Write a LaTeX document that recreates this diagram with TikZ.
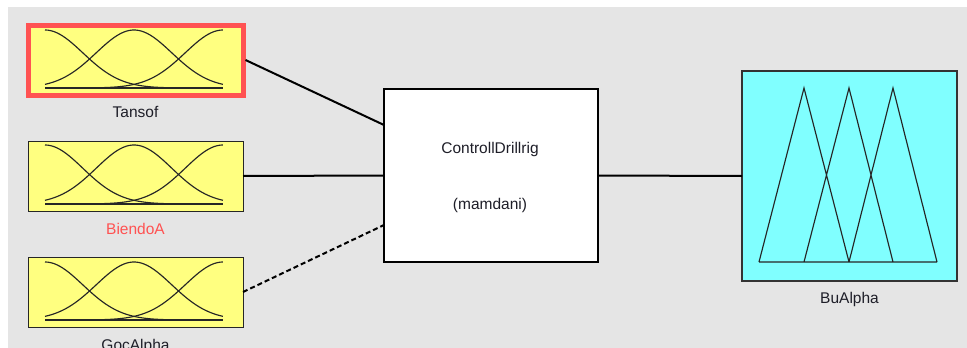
\documentclass[tikz,border=0pt]{standalone}
\usepackage{fontspec}
\setmainfont{Liberation Sans}
\definecolor{panelgrey}{HTML}{E5E5E5}
\definecolor{mfyellow}{HTML}{FFFF80}
\definecolor{mfcyan}{HTML}{80FFFF}
\definecolor{selred}{HTML}{FF5252}
\definecolor{txt}{HTML}{1E1E28}
\tikzset{
  inbox/.style={rectangle, draw=black!85, line width=1pt, fill=mfyellow,
    minimum width=215pt, minimum height=70pt, inner sep=0pt, outer sep=0pt},
  selbox/.style={inbox, draw=selred, line width=5pt},
  fisbox/.style={rectangle, draw=black, line width=2pt, fill=white,
    minimum width=214pt, minimum height=173pt, inner sep=0pt, outer sep=0pt},
  outbox/.style={rectangle, draw=black!80, line width=1.4pt, fill=mfcyan,
    minimum width=215pt, minimum height=210pt, inner sep=0pt, outer sep=0pt},
  lbl/.style={font=\fontsize{15.5}{18}\selectfont, text=txt, anchor=base, inner sep=0pt},
  wire/.style={line width=2pt, black},
  mf/.style={line width=1.15pt, black!85},
}
% three Gaussian membership functions on [0,1]; #1 = left x, #2 = baseline y, #3 = height
\newcommand{\gaussset}[3]{%
  \foreach \c in {0,0.5,1}{
    \draw[mf] plot[domain=0:1, samples=60, smooth]
      ({#1+178*\x}, {#2-#3*exp(-(\x-\c)*(\x-\c)/0.09014)});
  }
  \draw[mf] (#1,#2) -- (#1+178,#2);
}
\begin{document}
\begin{tikzpicture}[x=1pt, y=-1pt]
  \useasboundingbox (0,0) rectangle (967,348);
  \fill[white] (0,0) rectangle (967,348);
  \fill[panelgrey] (8,7) rectangle (967,348);

  % input variables
  \node[selbox] (tansof) at (135.5,60) {};
  \node[inbox] (biendo) at (135.5,176) {};
  \node[inbox] (goc) at (135.5,292) {};
  \gaussset{45}{88}{58}
  \gaussset{45}{204}{59}
  \gaussset{45}{320}{58}

  \node[lbl] (tansofl) at ([yshift=-22.5pt]tansof.south) {Tansof};
  \node[lbl, text=selred] (biendol) at ([yshift=-23pt]biendo.south) {BiendoA};
  \node[lbl] (gocl) at ([yshift=-23pt]goc.south) {GocAlpha};

  % inference system
  \node[fisbox] (fis) at (491,175.5) {};
  \node[lbl] (fisname) at (490,153) {ControllDrillrig};
  \node[lbl] (fistype) at (490,209) {(mamdani)};

  % output variable
  \node[outbox] (bu) at (849.5,176) {};
  \draw[mf] (759,262) -- (804,88) -- (849,262)
    (804,262) -- (849,88) -- (893,262)
    (849,262) -- (893,88) -- (937,262)
    (759,262) -- (937,262);
  \node[lbl] (bul) at ([yshift=-22.5pt]bu.south) {BuAlpha};

  % connections
  \draw[wire] ([xshift=2.5pt]tansof.east) -- ([yshift=50.5pt]fis.west);
  \draw[wire] (biendo.east) -- (fis.west);
  \draw[wire, dash pattern=on 5pt off 3pt] (goc.east) -- ([yshift=-49.5pt]fis.west);
  \draw[wire] (fis.east) -- (bu.west);
\end{tikzpicture}
\end{document}
